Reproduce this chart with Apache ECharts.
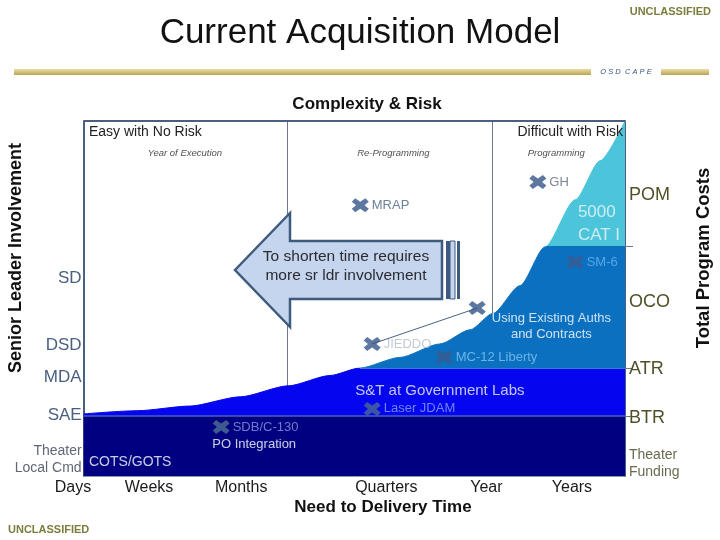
<!DOCTYPE html>
<html>
<head>
<meta charset="utf-8">
<title>Current Acquisition Model</title>
<script src="https://cdn.jsdelivr.net/npm/echarts@6/dist/echarts.min.js"></script>
<style>
  html, body { margin: 0; padding: 0; background: #fff; }
  #chart { width: 720px; height: 540px; }
</style>
</head>
<body>
<div id="chart"></div>
<script>
// x: need-to-delivery time (0 = left frame, 100 = right frame), y: program cost (0..100)
var timeLabels = ['Days', 'Weeks', 'Months', 'Quarters', 'Year', 'Years'];
var timePos = [-1.97, 12.07, 29.1, 55.9, 74.4, 90.2];

var leaderLabels = ['SD', 'DSD', 'MDA', 'SAE', 'Theater\nLocal Cmd'];
var leaderPos = [55.8, 36.9, 27.9, 17.2, 4.5];

var fundLabels = ['POM', 'OCO', 'ATR', 'BTR', 'Theater\nFunding'];
var fundPos = [79.2, 49.0, 30.1, 16.3, 3.4];

// tops of the cost bands: theater funding | BTR | ATR/OCO | POM
var bandTops = [16.9, 30.4, 64.8];

var phaseNames = ['Year of Execution', 'Re-Programming', 'Programming'];
var phaseX = [18.7, 57.2, 87.3];
var phaseY = 91.0;
var phaseDividers = [37.7, 75.4];

// cost curve
var curveX = [0, 10, 19.6, 28.9, 37.8, 45.5, 51.0, 58.4, 65.8, 71.4, 75.6, 80.6, 85.2, 90.8, 95.4, 100];
var curveY = [17.5, 18.4, 19.7, 22.3, 25.4, 28.3, 30.4, 33.4, 37.2, 41.2, 45.8, 53.6, 64.5, 77.8, 88.8, 100];

var projectNames = ['MRAP', 'GH', 'SM-6', 'Using Existing Auths', 'JIEDDO', 'MC-12 Liberty', 'Laser JDAM', 'SDB/C-130'];
var projectX = [51.1, 83.9, 90.8, 72.7, 53.3, 66.6, 53.3, 25.4];
var projectY = [76.3, 82.8, 60.3, 47.3, 37.2, 33.5, 18.9, 13.8];

var noteTexts = ['5000\nCAT I', 'Using Existing Auths\nand Contracts', 'S&T at Government Labs', 'PO Integration', 'COTS/GOTS'];
var noteX = [91.3, 86.4, 65.8, 31.5, 8.6];
var noteY = [71.1, 42.0, 23.9, 9.0, 3.9];

(function() {
  var font = '"Liberation Sans", Arial, sans-serif';
  var slate = '#4a6080';
  var olive = '#505028';
  var xPath = 'path://M4,0L10,4L16,0L20,4L15,8L20,12L16,16L10,12L4,16L0,12L5,8L0,4Z';

  var markerLook = {
    'MRAP': { color: '#34558a', label: slate },
    'GH': { color: '#34558a', label: '#5a6878' },
    'SM-6': { color: '#3a5d92', label: '#6ab4ec' },
    'Using Existing Auths': { color: '#34558a', label: null },
    'JIEDDO': { color: '#34558a', label: '#b4bcc8' },
    'MC-12 Liberty': { color: '#3a5b8e', label: '#86c4f0' },
    'Laser JDAM': { color: '#4a6a94', label: '#8ca2f0' },
    'SDB/C-130': { color: '#4f7094', label: '#8a9ae0' }
  };
  var noteLook = {
    '5000\nCAT I': { color: '#eef6f8', size: 17, align: 'left', lh: 23 },
    'Using Existing Auths\nand Contracts': { color: '#ffffff', size: 13, align: 'center', lh: 16 },
    'S&T at Government Labs': { color: '#f4f4f4', size: 15, align: 'center', lh: 18 },
    'PO Integration': { color: '#ffffff', size: 13, align: 'center', lh: 16 },
    'COTS/GOTS': { color: '#ffffff', size: 14, align: 'center', lh: 16 }
  };

  function pick(list, pos, v) {
    var best = 0;
    for (var i = 1; i < pos.length; i++) {
      if (Math.abs(pos[i] - v) < Math.abs(pos[best] - v)) best = i;
    }
    return list[best];
  }
  function twoLine(s) {
    if (s.indexOf('\n') < 0) return s;
    return s.split('\n').map(function(t) { return '{sm|' + t + '}'; }).join('\n');
  }

  var curve = curveX.map(function(x, i) { return [x, curveY[i]]; });
  var atrStart = 51;

  var chart = echarts.init(document.getElementById('chart'), null, { renderer: 'canvas' });
  chart.setOption({
    animation: false,
    textStyle: { fontFamily: font },
    grid: { left: 62, right: 95, top: 121, bottom: 64, containLabel: false, outerBoundsMode: 'none' },
    xAxis: {
      type: 'value', min: -4, max: 100,
      axisLine: { show: false, onZero: false }, axisTick: { show: false }, splitLine: { show: false },
      axisLabel: {
        customValues: timePos,
        formatter: function(v) { return pick(timeLabels, timePos, v); },
        fontSize: 16, color: '#1a1a1a', margin: 4
      }
    },
    yAxis: [{
      type: 'value', min: 0, max: 100, position: 'left', offset: -21.65,
      axisLine: { show: true, onZero: false, lineStyle: { color: slate, width: 2 } },
      axisTick: { show: false }, splitLine: { show: false },
      axisLabel: {
        customValues: leaderPos,
        formatter: function(v) { return twoLine(pick(leaderLabels, leaderPos, v)); },
        fontSize: 17, color: slate, margin: 2,
        rich: { sm: { fontSize: 14, color: '#5f6876', lineHeight: 17, align: 'right' } }
      }
    }, {
      type: 'value', min: 0, max: 100, position: 'right',
      axisLine: { show: true, onZero: false, lineStyle: { color: slate, width: 2 } },
      axisTick: { show: true, customValues: bandTops, length: 8, lineStyle: { color: '#6a7888', width: 1 } },
      splitLine: { show: false },
      axisLabel: {
        customValues: fundPos,
        formatter: function(v) { return twoLine(pick(fundLabels, fundPos, v)); },
        fontSize: 18, color: olive, margin: 4,
        rich: { sm: { fontSize: 14, color: '#6a6a50', lineHeight: 17, align: 'left' } }
      }
    }],
    visualMap: {
      type: 'piecewise', show: false, seriesIndex: 0, dimension: 1,
      pieces: [
        { gte: -10, lt: bandTops[0], color: '#000080' },
        { gte: bandTops[0], lt: bandTops[1], color: '#0505f0' },
        { gte: bandTops[1], lt: bandTops[2], color: '#0a70bf' },
        { gte: bandTops[2], lte: 110, color: '#4cc5db' }
      ]
    },
    series: [
      {
        name: 'cost', type: 'line', z: 2, silent: true,
        data: curve, smooth: 0.25, smoothMonotone: 'x', symbol: 'none',
        lineStyle: { width: 1 },
        areaStyle: { opacity: 1, origin: 'start' }
      },
      {
        name: 'dividers', type: 'line', data: [], silent: true,
        markLine: {
          silent: true, symbol: ['none', 'none'], z: 1, animation: false,
          label: { show: false },
          lineStyle: { color: '#6a7890', width: 1, type: 'solid' },
          data: phaseDividers.map(function(x) { return [{ coord: [x, 0] }, { coord: [x, 100] }]; })
        }
      },
      {
        name: 'frame', type: 'line', data: [], silent: true,
        markLine: {
          silent: true, symbol: ['none', 'none'], z: 5, animation: false,
          label: { show: false },
          lineStyle: { type: 'solid' },
          data: [
            [{ coord: [0, 100], lineStyle: { color: slate, width: 2 } }, { coord: [100, 100] }],
            [{ coord: [0, bandTops[0]], lineStyle: { color: '#4862b8', width: 1.5 } }, { coord: [100, bandTops[0]] }],
            [{ coord: [atrStart, bandTops[1]], lineStyle: { color: '#3a7ccc', width: 1 } }, { coord: [100, bandTops[1]] }],
            [{ coord: [0, 0], lineStyle: { color: '#8a96b0', width: 1 } }, { coord: [100, 0] }],
            [{ coord: [projectX[4], projectY[4]], lineStyle: { color: slate, width: 1 } }, { coord: [projectX[3], projectY[3]] }]
          ]
        }
      },
      {
        name: 'phases', type: 'scatter', z: 6, silent: true, symbolSize: 0,
        data: phaseNames.map(function(n, i) { return { name: n, value: [phaseX[i], phaseY] }; }),
        label: { show: true, position: 'inside', formatter: '{b}', fontSize: 9.5, fontStyle: 'italic', color: '#222' }
      },
      {
        name: 'projects', type: 'scatter', z: 7, silent: true, clip: false,
        symbol: xPath, symbolSize: [17, 14],
        data: projectNames.map(function(n, i) {
          var look = markerLook[n];
          return {
            name: n, value: [projectX[i], projectY[i]],
            itemStyle: { color: look.color },
            label: look.label ? { show: true, color: look.label } : { show: false }
          };
        }),
        label: { show: true, position: 'right', distance: 3, formatter: '{b}', fontSize: 13 }
      },
      {
        name: 'notes', type: 'scatter', z: 7, silent: true, symbolSize: 0, clip: false,
        data: noteTexts.map(function(t, i) {
          var look = noteLook[t];
          return {
            name: t, value: [noteX[i], noteY[i]],
            label: { color: look.color, fontSize: look.size, align: look.align, lineHeight: look.lh }
          };
        }),
        label: { show: true, position: 'inside', formatter: '{b}' }
      }
    ],
    graphic: [
      { type: 'text', x: 360, y: 33, z: 10, style: { text: 'Current Acquisition Model', fill: '#111', fontSize: 35, fontFamily: font, align: 'center', verticalAlign: 'middle' } },
      { type: 'text', x: 711, y: 12, z: 10, style: { text: 'UNCLASSIFIED', fill: '#7c7c3c', fontSize: 11, fontWeight: 'bold', fontFamily: font, align: 'right', verticalAlign: 'middle' } },
      { type: 'rect', z: 10, shape: { x: 14, y: 69, width: 577, height: 6 },
        style: { fill: new echarts.graphic.LinearGradient(0, 0, 0, 1, [{ offset: 0, color: '#e8dca4' }, { offset: 0.5, color: '#d4c27a' }, { offset: 1, color: '#b8a258' }]) } },
      { type: 'rect', z: 10, shape: { x: 661, y: 69, width: 48, height: 6 },
        style: { fill: new echarts.graphic.LinearGradient(0, 0, 0, 1, [{ offset: 0, color: '#e8dca4' }, { offset: 0.5, color: '#d4c27a' }, { offset: 1, color: '#b8a258' }]) } },
      { type: 'text', x: 626, y: 72, z: 10, style: { text: 'O S D  C A P E', fill: '#3a5478', fontSize: 7.5, fontStyle: 'italic', fontFamily: font, align: 'center', verticalAlign: 'middle' } },
      { type: 'text', x: 367, y: 104, z: 10, style: { text: 'Complexity & Risk', fill: '#111', fontSize: 17, fontWeight: 'bold', fontFamily: font, align: 'center', verticalAlign: 'middle' } },
      { type: 'text', x: 89, y: 132, z: 10, style: { text: 'Easy with No Risk', fill: '#222', fontSize: 14, fontFamily: font, align: 'left', verticalAlign: 'middle' } },
      { type: 'text', x: 623, y: 132, z: 10, style: { text: 'Difficult with Risk', fill: '#222', fontSize: 14, fontFamily: font, align: 'right', verticalAlign: 'middle' } },
      { type: 'text', x: 383, y: 507, z: 10, style: { text: 'Need to Delivery Time', fill: '#111', fontSize: 17, fontWeight: 'bold', fontFamily: font, align: 'center', verticalAlign: 'middle' } },
      { type: 'text', x: 8, y: 530, z: 10, style: { text: 'UNCLASSIFIED', fill: '#7c7c3c', fontSize: 11, fontWeight: 'bold', fontFamily: font, align: 'left', verticalAlign: 'middle' } },
      { type: 'text', x: 16, y: 258, z: 10, rotation: Math.PI / 2, style: { text: 'Senior Leader Involvement', fill: '#111', fontSize: 18, fontWeight: 'bold', fontFamily: font, align: 'center', verticalAlign: 'middle' } },
      { type: 'text', x: 704, y: 258, z: 10, rotation: Math.PI / 2, style: { text: 'Total Program Costs', fill: '#111', fontSize: 18.5, fontWeight: 'bold', fontFamily: font, align: 'center', verticalAlign: 'middle' } },
      // the big "shorten time" arrow
      { type: 'polygon', z: 10, shape: { points: [[235, 270], [290, 213], [290, 241], [442, 241], [442, 299], [290, 299], [290, 327]] },
        style: { fill: '#c5d5ee', stroke: '#3e5a7e', lineWidth: 2.5 } },
      { type: 'rect', z: 10, shape: { x: 446, y: 241, width: 4, height: 58 }, style: { fill: '#3e5a7e' } },
      { type: 'rect', z: 10, shape: { x: 450, y: 241, width: 5, height: 58 }, style: { fill: '#c5d5ee', stroke: '#3e5a7e', lineWidth: 1 } },
      { type: 'rect', z: 10, shape: { x: 457, y: 241, width: 3, height: 58 }, style: { fill: '#3e5a7e' } },
      { type: 'text', x: 346, y: 257, z: 11, style: { text: 'To shorten time requires', fill: '#2a2a30', fontSize: 15.5, fontFamily: font, align: 'center', verticalAlign: 'middle' } },
      { type: 'text', x: 346, y: 276, z: 11, style: { text: 'more sr ldr involvement', fill: '#2a2a30', fontSize: 15.5, fontFamily: font, align: 'center', verticalAlign: 'middle' } }
    ]
  });
  window.addEventListener('resize', function() { chart.resize(); });
})();
</script>
</body>
</html>
